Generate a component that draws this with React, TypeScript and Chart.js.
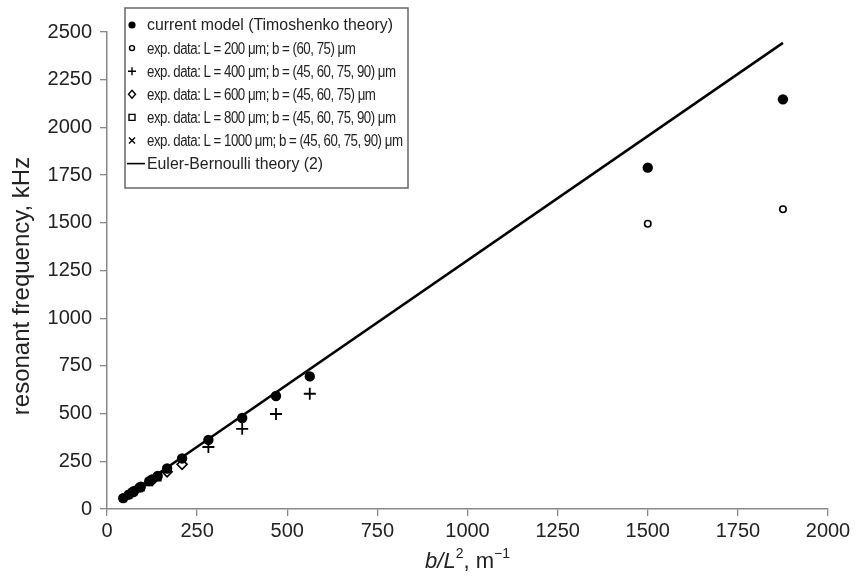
import React, { useEffect, useRef } from 'react';
import { Chart, registerables } from 'chart.js';

Chart.register(...registerables);

// x = b/L^2 (m^-1), y = resonant frequency (kHz)
const modelX = [45, 60, 70.3, 75, 90, 93.75, 117.2, 125, 140.6, 166.7, 208.3, 281.25, 375, 468.75, 562.5, 1500, 1875];
const modelY = [57, 75, 88, 94, 112, 117, 146, 155, 173, 212, 265, 362, 477, 592, 695, 1789, 2147];

const l200X = [1500, 1875];
const l200Y = [1495, 1571];

const l400X = [281.25, 375, 468.75, 562.5];
const l400Y = [325, 420, 498, 604];

const l600X = [125, 166.7, 208.3];
const l600Y = [150, 195, 234];

const l800X = [70.3, 93.75, 117.2, 140.6];
const l800Y = [85, 113, 140, 165];

const l1000X = [45, 60, 75, 90];
const l1000Y = [55, 72, 90, 108];

const theoryX = [45, 1875];
const theoryY = [59, 2443];

const legendLabels = [
  'current model (Timoshenko theory)',
  'exp. data: L = 200 μm; b = (60, 75) μm',
  'exp. data: L = 400 μm; b = (45, 60, 75, 90) μm',
  'exp. data: L = 600 μm; b = (45, 60, 75) μm',
  'exp. data: L = 800 μm; b = (45, 60, 75, 90) μm',
  'exp. data: L = 1000 μm; b = (45, 60, 75, 90) μm',
  'Euler-Bernoulli theory (2)',
];
const legendSymbols = ['dot', 'circle', 'plus', 'diamond', 'square', 'cross', 'line'];

const yTitle = 'resonant frequency, kHz';

const FONT = '"Liberation Sans", Arial, Helvetica, sans-serif';

const pts = (xs: number[], ys: number[]) => xs.map((x, i) => ({ x, y: ys[i] }));

function drawSymbol(ctx: CanvasRenderingContext2D, kind: string, x: number, y: number) {
  ctx.save();
  ctx.strokeStyle = '#000';
  ctx.fillStyle = '#000';
  ctx.lineWidth = 1.4;
  ctx.beginPath();
  if (kind === 'dot') {
    ctx.arc(x, y, 3.6, 0, Math.PI * 2);
    ctx.fill();
  } else if (kind === 'circle') {
    ctx.arc(x, y, 2.5, 0, Math.PI * 2);
    ctx.stroke();
  } else if (kind === 'plus') {
    ctx.moveTo(x - 4, y); ctx.lineTo(x + 4, y);
    ctx.moveTo(x, y - 4); ctx.lineTo(x, y + 4);
    ctx.stroke();
  } else if (kind === 'diamond') {
    ctx.moveTo(x, y - 4); ctx.lineTo(x + 3.5, y); ctx.lineTo(x, y + 4); ctx.lineTo(x - 3.5, y); ctx.closePath();
    ctx.stroke();
  } else if (kind === 'square') {
    ctx.rect(x - 3, y - 3, 6, 6);
    ctx.stroke();
  } else if (kind === 'cross') {
    ctx.moveTo(x - 3, y - 3); ctx.lineTo(x + 3, y + 3);
    ctx.moveTo(x + 3, y - 3); ctx.lineTo(x - 3, y + 3);
    ctx.stroke();
  } else if (kind === 'line') {
    ctx.lineWidth = 1.6;
    ctx.moveTo(x - 5, y); ctx.lineTo(x + 13, y);
    ctx.stroke();
  }
  ctx.restore();
}

const legendPlugin = {
  id: 'boxLegend',
  afterDraw(chart: any) {
    const ctx: any = chart.ctx;
    ctx.save();
    const left = 125, top = 8, right = 408, bottom = 188;
    ctx.fillStyle = '#fff';
    ctx.fillRect(left, top, right - left, bottom - top);
    ctx.strokeStyle = '#666';
    ctx.lineWidth = 1.5;
    ctx.strokeRect(left, top, right - left, bottom - top);
    ctx.font = `16px ${FONT}`;
    ctx.textBaseline = 'middle';
    ctx.textAlign = 'left';
    const textX = 147;
    const rowY0 = 25;
    const rowH = 23.1;
    legendLabels.forEach((t, i) => {
      const y = rowY0 + i * rowH;
      drawSymbol(ctx, legendSymbols[i], 132, y);
      const isExp = t.startsWith('exp.');
      ctx.save();
      ctx.letterSpacing = isExp ? '-0.6px' : '0px';
      ctx.translate(textX, y + 1);
      ctx.scale(isExp ? 0.83 : 0.99, 1);
      ctx.fillStyle = '#222';
      ctx.fillText(t, 0, 0);
      ctx.restore();
    });
    ctx.restore();
  },
};

const titlesPlugin = {
  id: 'axisTitles',
  afterDraw(chart: any) {
    const ctx: CanvasRenderingContext2D = chart.ctx;
    const area = chart.chartArea;
    ctx.save();
    // y title
    ctx.save();
    ctx.translate(22, 286);
    ctx.rotate(-Math.PI / 2);
    ctx.font = `24px ${FONT}`;
    ctx.fillStyle = '#222';
    ctx.textAlign = 'center';
    ctx.textBaseline = 'middle';
    ctx.fillText(yTitle, 0, 0);
    ctx.restore();
    // x title
    const parts = [
      { t: 'b/L', f: `italic 22px ${FONT}`, dy: 0 },
      { t: '2', f: `14px ${FONT}`, dy: -8 },
      { t: ', m', f: `22px ${FONT}`, dy: 0 },
      { t: '−1', f: `14px ${FONT}`, dy: -8 },
    ];
    let total = 0;
    parts.forEach((p) => { ctx.font = p.f; total += ctx.measureText(p.t).width; });
    let x = (area.left + area.right) / 2 - total / 2;
    const y = 562;
    ctx.fillStyle = '#222';
    ctx.textBaseline = 'middle';
    ctx.textAlign = 'left';
    parts.forEach((p) => {
      ctx.font = p.f;
      ctx.fillText(p.t, x, y + p.dy);
      x += ctx.measureText(p.t).width;
    });
    ctx.restore();
  },
};

export default function App() {
  const ref = useRef<HTMLCanvasElement | null>(null);
  useEffect(() => {
    if (!ref.current) return;
    const chart = new Chart(ref.current, {
      type: 'scatter',
      data: {
        datasets: [
          {
            label: legendLabels[6],
            data: pts(theoryX, theoryY),
            showLine: true,
            borderColor: '#000',
            borderWidth: 2.5,
            pointRadius: 0,
            order: 0,
          },
          {
            label: legendLabels[0],
            data: pts(modelX, modelY),
            pointStyle: 'circle',
            pointRadius: 5.2,
            backgroundColor: '#000',
            borderColor: '#000',
            borderWidth: 0,
            order: 1,
          },
          {
            label: legendLabels[1],
            data: pts(l200X, l200Y),
            pointStyle: 'circle',
            pointRadius: 3.2,
            backgroundColor: '#fff',
            borderColor: '#000',
            borderWidth: 1.6,
            order: 2,
          },
          {
            label: legendLabels[2],
            data: pts(l400X, l400Y),
            pointStyle: 'cross',
            pointRadius: 6,
            borderColor: '#000',
            borderWidth: 1.8,
            order: 3,
          },
          {
            label: legendLabels[3],
            data: pts(l600X, l600Y),
            pointStyle: 'rectRot',
            pointRadius: 5,
            backgroundColor: '#fff',
            borderColor: '#000',
            borderWidth: 1.6,
            order: 4,
          },
          {
            label: legendLabels[4],
            data: pts(l800X, l800Y),
            pointStyle: 'rect',
            pointRadius: 4.5,
            backgroundColor: '#fff',
            borderColor: '#000',
            borderWidth: 1.6,
            order: 5,
          },
          {
            label: legendLabels[5],
            data: pts(l1000X, l1000Y),
            pointStyle: 'crossRot',
            pointRadius: 5,
            borderColor: '#000',
            borderWidth: 1.6,
            order: 6,
          },
        ],
      },
      options: {
        responsive: false,
        animation: false,
        layout: { padding: { left: 0, top: 32, right: 28, bottom: 0 } },
        plugins: {
          legend: { display: false },
          tooltip: { enabled: false },
        },
        scales: {
          x: {
            type: 'linear',
            min: 0,
            max: 2000,
            ticks: {
              stepSize: 250,
              color: '#222',
              font: { family: FONT, size: 20 },
              padding: 3,
              maxRotation: 0,
              callback: (v: any) => String(v),
            },
            grid: { display: true, drawOnChartArea: false, drawTicks: true, tickLength: 7, color: '#888', lineWidth: 1.3 },
            border: { display: true, color: '#888', width: 1.5 },
            afterFit: (s: any) => { s.height = 69; },
          },
          y: {
            type: 'linear',
            min: 0,
            max: 2500,
            ticks: {
              stepSize: 250,
              color: '#222',
              font: { family: FONT, size: 20 },
              padding: 8,
              callback: (v: any) => String(v),
            },
            grid: { display: true, drawOnChartArea: false, drawTicks: true, tickLength: 7, color: '#888', lineWidth: 1.3 },
            border: { display: true, color: '#888', width: 1.5 },
            afterFit: (s: any) => { s.width = 107; },
          },
        },
      },
      plugins: [legendPlugin, titlesPlugin],
    });
    return () => chart.destroy();
  }, []);
  return (
    <div style={{ position: 'fixed', left: 0, top: 0, width: 856, height: 578, background: '#fff' }}>
      <canvas ref={ref} width={856} height={578} />
    </div>
  );
}
